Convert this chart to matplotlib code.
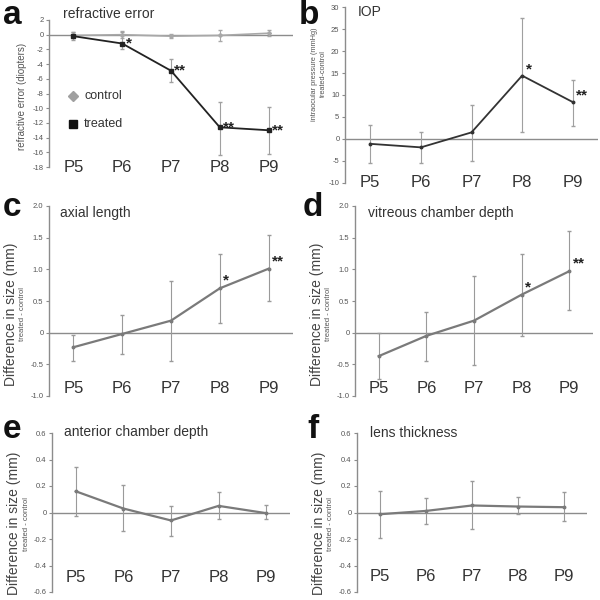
import numpy as np
import matplotlib.pyplot as plt
from matplotlib import transforms

plt.rcParams['font.family'] = ['Liberation Sans', 'DejaVu Sans']

# categories
ages = ["P5", "P6", "P7", "P8", "P9"]
x = np.arange(len(ages))

# a: refractive error (diopters)
ref_treated = [-0.2, -1.2, -4.9, -12.6, -13.0]
ref_treated_lo = [-0.7, -2.0, -6.4, -16.3, -16.2]
ref_treated_hi = [0.3, 0.4, -3.3, -9.1, -9.9]
ref_control = [-0.1, 0.0, -0.2, -0.1, 0.2]
ref_control_err = [0.4, 0.5, 0.3, 0.7, 0.4]
ref_stars = ["", "*", "**", "**", "**"]

# b: IOP treated-control (mmHg)
iop = [-1.1, -1.9, 1.5, 14.4, 8.4]
iop_lo = [-5.4, -5.4, -5.0, 1.7, 3.0]
iop_hi = [3.2, 1.7, 7.7, 27.4, 13.5]
iop_stars = ["", "", "", "*", "**"]

# c: axial length
axial = [-0.23, -0.02, 0.19, 0.70, 1.01]
axial_lo = [-0.44, -0.34, -0.44, 0.16, 0.50]
axial_hi = [-0.04, 0.28, 0.82, 1.25, 1.55]
axial_stars = ["", "", "", "*", "**"]

# d: vitreous chamber depth
vcd = [-0.37, -0.05, 0.19, 0.60, 0.97]
vcd_lo = [-0.73, -0.45, -0.51, -0.05, 0.36]
vcd_hi = [0.0, 0.32, 0.90, 1.24, 1.60]
vcd_stars = ["", "", "", "*", "**"]

# e: anterior chamber depth
acd = [0.16, 0.03, -0.06, 0.05, -0.005]
acd_lo = [-0.025, -0.14, -0.175, -0.05, -0.05]
acd_hi = [0.34, 0.21, 0.05, 0.155, 0.055]

# f: lens thickness
lens = [-0.013, 0.012, 0.053, 0.045, 0.04]
lens_lo = [-0.19, -0.085, -0.125, -0.01, -0.065]
lens_hi = [0.165, 0.11, 0.235, 0.115, 0.155]

grey = "#7a7a7a"
axcol = "#8c8c8c"

fig = plt.figure(figsize=(6, 6), dpi=100)


def px_axes(left, right, top, bottom):
    # pixel box -> figure fractions
    return fig.add_axes([left / 600, 1 - bottom / 600, (right - left) / 600, (bottom - top) / 600])


def setup(ax, ylim, yticks, ylabels, lab_y):
    ax.set_xlim(-0.5, 4.5)
    ax.set_ylim(*ylim)
    for s in ["top", "right", "bottom"]:
        ax.spines[s].set_visible(False)
    ax.spines["left"].set_color(axcol)
    ax.spines["left"].set_linewidth(1.0)
    ax.set_xticks([])
    ax.set_yticks(yticks)
    ax.set_yticklabels(ylabels, fontsize=5.5, color="#555555")
    ax.tick_params(axis="y", length=2, color=axcol, pad=2)
    ax.axhline(0, color=axcol, lw=1.0, zorder=1)
    tr = transforms.blended_transform_factory(ax.transData, ax.transAxes)
    for xi, lab in zip(x, ages):
        ax.text(xi, lab_y, lab, transform=tr, ha="center", va="center",
                fontsize=12, color="#333333")


def errs(vals, lo, hi):
    v = np.array(vals)
    return [v - np.array(lo), np.array(hi) - v]


def stars(ax, vals, st, dy=0):
    for xi, v, s in zip(x, vals, st):
        if s:
            ax.text(xi + 0.07, v + dy, s, fontsize=11, fontweight="bold",
                    color="#222222", ha="left", va="center")


# ---------- a ----------
ax = px_axes(49, 293, 20, 167)
setup(ax, (-18, 2), np.arange(-18, 3, 2), [str(v) for v in range(-18, 3, 2)], 0.0)
ax.errorbar(x, ref_control, yerr=ref_control_err, color="#a8a8a8", lw=1.2,
            elinewidth=0.8, capsize=1.5, marker="D", ms=2, zorder=2)
ax.errorbar(x, ref_treated, yerr=errs(ref_treated, ref_treated_lo, ref_treated_hi),
            fmt="none", ecolor="#a0a0a0", elinewidth=0.8, capsize=1.5, zorder=2)
ax.plot(x, ref_treated, color="#222222", lw=1.3, marker="s", ms=2.5, zorder=3)
stars(ax, ref_treated, ref_stars)
ax.plot([0.0], [-8.3], marker="D", color="#a0a0a0", ms=5, ls="none")
ax.text(0.22, -8.3, "control", fontsize=9, color="#333333", va="center")
ax.plot([0.0], [-12.1], marker="s", color="#111111", ms=6, ls="none")
ax.text(0.22, -12.1, "treated", fontsize=9, color="#333333", va="center")
ax.text(-27 / 244, 0.48, "refractive error (diopters)", transform=ax.transAxes, rotation=90,
        ha="center", va="center", fontsize=7, color="#555555")

# ---------- b ----------
ax = px_axes(345, 598, 7, 183)
setup(ax, (-10, 30), np.arange(-10, 31, 5), [str(v) for v in range(-10, 31, 5)], 0.0)
ax.errorbar(x, iop, yerr=errs(iop, iop_lo, iop_hi), fmt="none", ecolor="#a0a0a0",
            elinewidth=0.8, capsize=1.5, zorder=2)
ax.plot(x, iop, color="#333333", lw=1.3, marker="o", ms=1.8, zorder=3)
stars(ax, iop, iop_stars, dy=1.5)
ax.text(-26 / 253, 0.62, "intraocular pressure (mmHg)\ntreated-control", transform=ax.transAxes,
        rotation=90, ha="center", va="center", fontsize=5.3, color="#555555",
        linespacing=1.2)

# ---------- c, d, e, f ----------
ticks_cd = [-1.0, -0.5, 0, 0.5, 1.0, 1.5, 2.0]
labels_cd = ["-1.0", "-0.5", "0", "0.5", "1.0", "1.5", "2.0"]
ticks_ef = [-0.6, -0.4, -0.2, 0, 0.2, 0.4, 0.6]
labels_ef = ["-0.6", "-0.4", "-0.2", "0", "0.2", "0.4", "0.6"]

panels = [
    ((49, 293, 206, 396), (-1, 2), ticks_cd, labels_cd, 0.04, axial, axial_lo, axial_hi, axial_stars, 0.12),
    ((355, 593, 206, 396), (-1, 2), ticks_cd, labels_cd, 0.04, vcd, vcd_lo, vcd_hi, vcd_stars, 0.12),
    ((52, 290, 433, 592), (-0.6, 0.6), ticks_ef, labels_ef, 0.09, acd, acd_lo, acd_hi, None, 0),
    ((357, 587, 433, 592), (-0.6, 0.6), ticks_ef, labels_ef, 0.1, lens, lens_lo, lens_hi, None, 0),
]
for box, ylim, tk, tl, laby, v, lo, hi, st, dy in panels:
    ax = px_axes(*box)
    setup(ax, ylim, tk, tl, laby)
    ax.errorbar(x, v, yerr=errs(v, lo, hi), fmt="none", ecolor="#9a9a9a",
                elinewidth=0.8, capsize=1.5, zorder=2)
    ax.plot(x, v, color=grey, lw=1.6, marker="o", ms=1.8, zorder=3)
    if st:
        stars(ax, v, st, dy=dy)
    w = (box[1] - box[0])
    ax.text(-38 / w, 0.43, "Difference in size (mm)", transform=ax.transAxes, rotation=90,
            ha="center", va="center", fontsize=10, color="#444444")
    ax.text(-26 / w, 0.43, "treated - control", transform=ax.transAxes, rotation=90,
            ha="center", va="center", fontsize=5.5, color="#555555")

# titles and panel letters
titles = [(63, 14, "refractive error"), (358, 12, "IOP"), (60, 213, "axial length"),
          (368, 213, "vitreous chamber depth"), (64, 432, "anterior chamber depth"),
          (370, 433, "lens thickness")]
for tx, ty, t in titles:
    fig.text(tx / 600, 1 - ty / 600, t, fontsize=10, color="#333333", va="center")

letters = [(3, 15, "a"), (299, 15, "b"), (3, 207, "c"), (303, 207, "d"), (3, 430, "e"), (307, 430, "f")]
for lx, ly, l in letters:
    fig.text(lx / 600, 1 - ly / 600, l, fontsize=24, fontweight="bold", color="#111111",
             va="center")

plt.savefig("out.png", dpi=100)
